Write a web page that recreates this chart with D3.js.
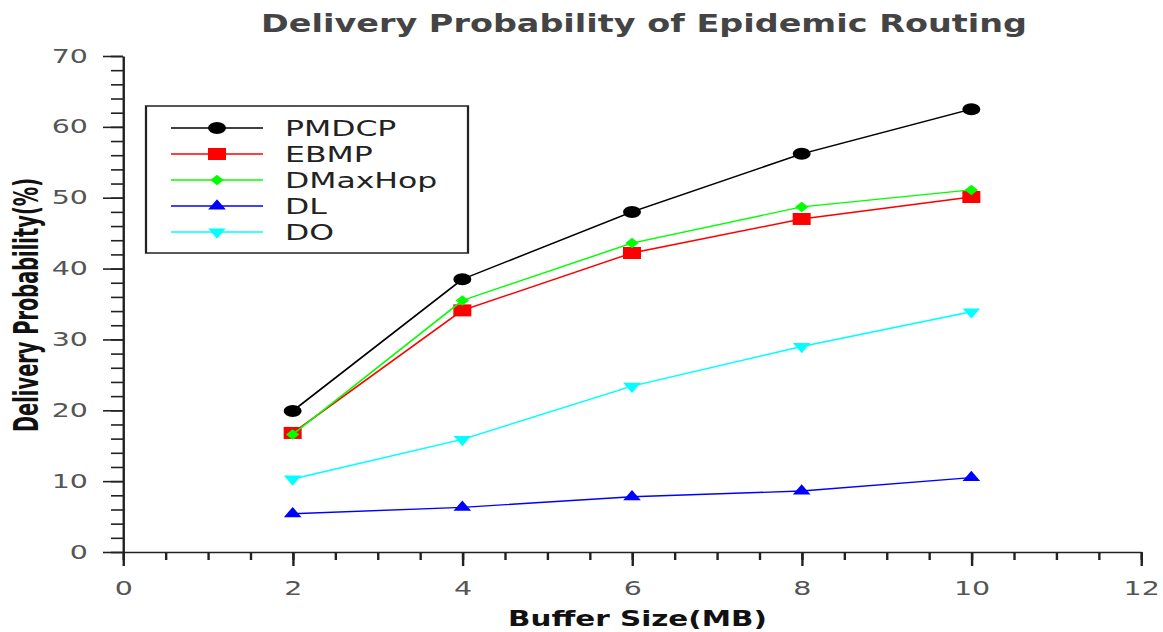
<!DOCTYPE html>
<html>
<head>
<meta charset="utf-8">
<script src="https://cdn.jsdelivr.net/npm/d3@7"></script>
<style>
  body { margin: 0; background: #fff; }
  text { font-family: "DejaVu Sans", sans-serif; }
</style>
</head>
<body>
<svg></svg>
<script>
var bufferSizes = [2, 4, 6, 8, 10];
var pmdcp   = [19.9, 38.5, 48.0, 56.2, 62.5];
var ebmp    = [16.8, 34.1, 42.2, 47.0, 50.1];
var dmaxhop = [16.6, 35.5, 43.6, 48.7, 51.1];
var dl      = [5.4, 6.3, 7.8, 8.6, 10.5];
var dO      = [10.3, 15.9, 23.4, 29.0, 33.9];
var seriesNames = ["PMDCP", "EBMP", "DMaxHop", "DL", "DO"];
var xTicks = [0, 2, 4, 6, 8, 10, 12];
var yTicks = [0, 10, 20, 30, 40, 50, 60, 70];

var width = 1163;
var height = 632;
// the whole picture is wider than it is tall, so draw in narrow units and stretch
var sx = 1.5;

var svg = d3.select("svg")
  .attr("width", width)
  .attr("height", height);

var g = svg.append("g").attr("transform", "scale(" + sx + ",1)");

var scaleX = d3.scaleLinear()
  .domain([0, 12])
  .range([123 / sx, 1141 / sx]);

var scaleY = d3.scaleLinear()
  .domain([0, 70])
  .range([552, 56]);

// flatter diamond than d3's own
var wideDiamond = {
  draw: function(context, size) {
    var h = Math.sqrt(size) * 0.9, w = h * 0.85;
    context.moveTo(0, -h);
    context.lineTo(w, 0);
    context.lineTo(0, h);
    context.lineTo(-w, 0);
    context.closePath();
  }
};

var series = [
  { name: seriesNames[0], values: pmdcp,   color: "#000000", symbol: d3.symbolCircle,   size: 113, rot: 0 },
  { name: seriesNames[1], values: ebmp,    color: "#ff0000", symbol: d3.symbolSquare,   size: 144, rot: 0 },
  { name: seriesNames[2], values: dmaxhop, color: "#00ff00", symbol: wideDiamond,       size: 34,  rot: 0 },
  { name: seriesNames[3], values: dl,      color: "#0000ff", symbol: d3.symbolTriangle, size: 60,  rot: 0 },
  { name: seriesNames[4], values: dO,      color: "#00ffff", symbol: d3.symbolTriangle, size: 60,  rot: 180 }
];

// axes: minor ticks first, then majors with labels
var xMinor = d3.range(0, 12.01, 0.5);
var yMinor = d3.range(0, 70.01, 2);

g.append("g")
  .attr("transform", "translate(0," + scaleY(0) + ")")
  .call(d3.axisBottom(scaleX).tickValues(xMinor).tickSize(8).tickFormat(""))
  .call(function(a) { a.select(".domain").remove(); });

g.append("g")
  .attr("transform", "translate(" + scaleX(0) + ",0)")
  .call(d3.axisLeft(scaleY).tickValues(yMinor).tickSize(12 / sx).tickFormat(""))
  .call(function(a) { a.select(".domain").remove(); });

var xAxis = g.append("g")
  .attr("transform", "translate(0," + scaleY(0) + ")")
  .call(d3.axisBottom(scaleX).tickValues(xTicks).tickSize(14).tickSizeOuter(0).tickPadding(16));

var yAxis = g.append("g")
  .attr("transform", "translate(" + scaleX(0) + ",0)")
  .call(d3.axisLeft(scaleY).tickValues(yTicks).tickSize(20 / sx).tickSizeOuter(0).tickPadding(10));

g.selectAll(".tick line, .domain").attr("stroke", "#222").attr("stroke-width", 1.6);

[xAxis, yAxis].forEach(function(a) {
  a.selectAll("text")
    .attr("font-family", "DejaVu Sans")
    .attr("font-size", 19)
    .attr("fill", "#555");
});

// lines and markers
var line = d3.line()
  .x(function(d, i) { return scaleX(bufferSizes[i]); })
  .y(function(d) { return scaleY(d); });

series.forEach(function(s) {
  g.append("path")
    .attr("d", line(s.values))
    .attr("fill", "none")
    .attr("stroke", s.color)
    .attr("stroke-width", 1.4);

  g.selectAll(null)
    .data(s.values)
    .enter()
    .append("path")
    .attr("d", d3.symbol().type(s.symbol).size(s.size))
    .attr("transform", function(d, i) {
      return "translate(" + scaleX(bufferSizes[i]) + "," + scaleY(d) + ") rotate(" + s.rot + ")";
    })
    .attr("fill", s.color);
});

// legend
var legend = g.append("g");
legend.append("rect")
  .attr("x", 146 / sx)
  .attr("y", 106)
  .attr("width", (468 - 146) / sx)
  .attr("height", 147)
  .attr("fill", "#fff")
  .attr("stroke", "#222")
  .attr("stroke-width", 1.5);

var rows = legend.selectAll(".row")
  .data(series)
  .enter()
  .append("g")
  .attr("transform", function(d, i) { return "translate(0," + (128 + i * 26) + ")"; });

rows.append("line")
  .attr("x1", 171 / sx)
  .attr("x2", 263 / sx)
  .attr("stroke", function(d) { return d.color; })
  .attr("stroke-width", 1.4);

rows.append("path")
  .attr("d", function(d) { return d3.symbol().type(d.symbol).size(d.size)(); })
  .attr("transform", function(d) { return "translate(" + (217 / sx) + ",0) rotate(" + d.rot + ")"; })
  .attr("fill", function(d) { return d.color; });

rows.append("text")
  .attr("x", 285 / sx)
  .attr("y", 7.5)
  .attr("font-size", 21)
  .attr("fill", "#222")
  .text(function(d) { return d.name; });

// titles
g.append("text")
  .attr("x", 644 / sx)
  .attr("y", 32)
  .attr("text-anchor", "middle")
  .attr("font-size", 25)
  .attr("font-weight", "bold")
  .attr("fill", "#444")
  .attr("textLength", 766 / sx)
  .attr("lengthAdjust", "spacingAndGlyphs")
  .text("Delivery Probability of Epidemic Routing");

g.append("text")
  .attr("x", 637.5 / sx)
  .attr("y", 626)
  .attr("text-anchor", "middle")
  .attr("font-size", 22)
  .attr("font-weight", "bold")
  .attr("fill", "#111")
  .attr("textLength", 259 / sx)
  .attr("lengthAdjust", "spacingAndGlyphs")
  .text("Buffer Size(MB)");

g.append("text")
  .attr("transform", "translate(" + (38 / sx) + ",305) rotate(-90)")
  .attr("text-anchor", "middle")
  .attr("font-size", 22)
  .attr("font-weight", "bold")
  .attr("fill", "#111")
  .attr("textLength", 254)
  .attr("lengthAdjust", "spacingAndGlyphs")
  .text("Delivery Probability(%)");
</script>
</body>
</html>
